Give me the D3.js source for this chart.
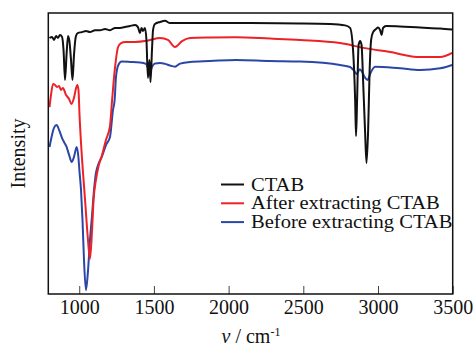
<!DOCTYPE html>
<html>
<head>
<meta charset="utf-8">
<script src="https://cdn.jsdelivr.net/npm/d3@7"></script>
<style>
  body { margin: 0; background: #fff; }
  svg text { font-family: "Liberation Serif", "Times New Roman", "DejaVu Serif", serif; }
</style>
</head>
<body>
<div id="chart"></div>
<script>
// FTIR spectra, wavenumber (cm-1) vs intensity (a.u.)
const ctabX = [801, 818, 831, 845, 858, 871, 885, 895, 905, 915, 925, 935, 945, 955, 965, 978, 992, 1019, 1045, 1072, 1106, 1139, 1173, 1206, 1240, 1273, 1307, 1340, 1374, 1393, 1407, 1417, 1427, 1440, 1450, 1460, 1470, 1477, 1487, 1494, 1507, 1541, 1574, 1608, 1675, 1809, 2143, 2479, 2679, 2780, 2813, 2833, 2847, 2853, 2860, 2870, 2880, 2890, 2900, 2913, 2923, 2934, 2944, 2954, 2967, 2987, 3000, 3014, 3024, 3034, 3054, 3148, 3282, 3416, 3496];
const ctabY = [91.1, 91.5, 90.4, 91.8, 91.1, 92.2, 91.5, 86.8, 76.2, 85.1, 91.8, 89.7, 83.3, 76.2, 85.1, 91.8, 92.9, 93.2, 93.6, 93.2, 93.9, 93.9, 94.3, 93.9, 94.7, 94.7, 95.0, 95.4, 95.7, 95.0, 92.9, 94.7, 93.6, 94.7, 90.4, 76.9, 83.3, 75.4, 86.8, 93.9, 96.1, 96.8, 97.2, 96.4, 96.4, 96.4, 96.4, 96.3, 96.1, 95.6, 94.7, 86.8, 69.0, 56.2, 69.0, 88.6, 90.0, 88.6, 76.2, 58.4, 46.6, 58.4, 79.7, 90.4, 93.2, 94.3, 94.8, 93.9, 92.2, 94.7, 95.4, 95.2, 94.8, 94.5, 94.1];

const afterX = [801, 811, 825, 838, 851, 865, 878, 891, 912, 932, 948, 965, 979, 987, 995, 1002, 1015, 1029, 1039, 1056, 1072, 1086, 1096, 1112, 1128, 1153, 1179, 1206, 1220, 1240, 1260, 1280, 1307, 1374, 1440, 1474, 1541, 1594, 1641, 1688, 1742, 1876, 2050, 2277, 2479, 2746, 2914, 3081, 3282, 3416, 3496];
const afterY = [66.5, 70.8, 74.7, 74.4, 73.7, 74.0, 72.6, 73.3, 70.8, 69.4, 67.6, 69.8, 73.3, 74.4, 72.6, 63.7, 51.2, 40.6, 33.5, 21.0, 12.5, 22.8, 33.5, 40.6, 45.2, 49.5, 54.8, 59.8, 69.0, 80.8, 87.9, 89.3, 89.7, 89.7, 90.0, 90.4, 91.1, 90.4, 87.9, 90.0, 91.1, 91.3, 91.4, 90.9, 90.4, 89.3, 87.5, 86.1, 84.3, 84.3, 85.8];

const beforeX = [801, 818, 831, 849, 865, 885, 898, 916, 932, 950, 965, 983, 995, 1001, 1012, 1022, 1032, 1045, 1059, 1072, 1086, 1099, 1112, 1126, 1151, 1179, 1206, 1226, 1237, 1246, 1262, 1284, 1340, 1407, 1447, 1461, 1474, 1487, 1507, 1541, 1574, 1608, 1641, 1675, 1742, 1876, 2050, 2277, 2479, 2746, 2813, 2840, 2858, 2878, 2894, 2914, 2932, 2947, 2981, 3148, 3282, 3416, 3496];
const beforeY = [52.3, 56.6, 59.1, 60.1, 58.4, 55.5, 54.1, 52.3, 49.5, 47.0, 48.8, 52.3, 48.4, 44.1, 37.0, 26.3, 12.1, 1.4, 8.5, 19.2, 28.1, 37.0, 43.1, 45.9, 48.8, 53.0, 55.9, 65.5, 69.0, 77.2, 81.5, 82.7, 82.6, 82.4, 81.9, 80.4, 79.1, 80.8, 82.0, 82.2, 81.9, 81.3, 80.9, 82.0, 82.6, 82.9, 83.3, 82.9, 82.7, 81.5, 80.8, 79.4, 78.3, 80.0, 79.0, 76.9, 76.2, 78.3, 80.9, 80.3, 79.7, 80.3, 81.5];

const seriesNames = ["CTAB", "After extracting CTAB", "Before extracting CTAB"];
const seriesColors = ["#111111", "#ec2227", "#2b46a6"];
const xTicks = [1000, 1500, 2000, 2500, 3000, 3500];

const FONT = "'Liberation Serif', 'Times New Roman', 'DejaVu Serif', serif";

const W = 476, H = 348;
const margin = {left: 48.3, right: 23.3, top: 13, bottom: 54};
const width = W - margin.left - margin.right;
const height = H - margin.top - margin.bottom;

const svg = d3.select("#chart").append("svg")
  .attr("width", W)
  .attr("height", H);

const g = svg.append("g")
  .attr("transform", `translate(${margin.left},${margin.top})`);

const x = d3.scaleLinear().domain([793, 3500]).range([0, width]);
const y = d3.scaleLinear().domain([0, 100]).range([height, 0]);

const series = [
  {name: seriesNames[0], xs: ctabX, ys: ctabY, color: seriesColors[0]},
  {name: seriesNames[1], xs: afterX, ys: afterY, color: seriesColors[1]},
  {name: seriesNames[2], xs: beforeX, ys: beforeY, color: seriesColors[2]}
];

const line = d3.line()
  .x(d => x(d[0]))
  .y(d => y(d[1]))
  .curve(d3.curveMonotoneX);

// draw blue first, black last (on top)
series.slice().reverse().forEach(s => {
  g.append("path")
    .datum(s.xs.map((v, i) => [v, s.ys[i]]))
    .attr("fill", "none")
    .attr("stroke", s.color)
    .attr("stroke-width", 2)
    .attr("stroke-linejoin", "round")
    .attr("d", line);
});

// bottom axis, ticks pointing inward
const xAxis = g.append("g")
  .attr("transform", `translate(0,${height})`)
  .call(d3.axisBottom(x).tickValues(xTicks).tickSize(-8).tickPadding(6).tickFormat(d3.format("d")));
xAxis.attr("font-family", null).attr("font-size", null);
xAxis.select(".domain").remove();
xAxis.selectAll("line").attr("stroke", "#444").attr("stroke-width", 1);
xAxis.selectAll("text")
  .attr("font-family", FONT)
  .attr("font-size", 20)
  .attr("fill", "#111");

// frame
g.append("rect")
  .attr("width", width)
  .attr("height", height)
  .attr("fill", "none")
  .attr("stroke", "#111")
  .attr("stroke-width", 1.5);

// axis titles
svg.append("text")
  .attr("transform", `translate(25,${margin.top + height / 2}) rotate(-90)`)
  .attr("text-anchor", "middle")
  .attr("font-family", FONT)
  .attr("font-size", 20)
  .attr("fill", "#111")
  .text("Intensity");

const xl = svg.append("text")
  .attr("x", 251)
  .attr("y", 342.5)
  .attr("text-anchor", "middle")
  .attr("font-family", FONT)
  .attr("font-size", 20)
  .attr("fill", "#111");
xl.append("tspan").attr("font-style", "italic").text("ν");
xl.append("tspan").text(" / cm");
xl.append("tspan").attr("dy", -7).attr("font-size", 12).text("-1");

// legend
const legend = svg.append("g").attr("transform", "translate(221,184.5)");
series.forEach((s, i) => {
  const row = legend.append("g").attr("transform", `translate(0,${i * 18.8})`);
  row.append("line")
    .attr("x1", 0).attr("x2", 23)
    .attr("stroke", s.color)
    .attr("stroke-width", 2);
  const t = row.append("text")
    .attr("x", 30)
    .attr("y", 6)
    .attr("font-family", FONT)
    .attr("font-size", 18.5)
    .attr("fill", "#111")
    .text(s.name);
  const w = t.node().getComputedTextLength();
  t.attr("textLength", w * 1.11).attr("lengthAdjust", "spacingAndGlyphs");
});
</script>
</body>
</html>
